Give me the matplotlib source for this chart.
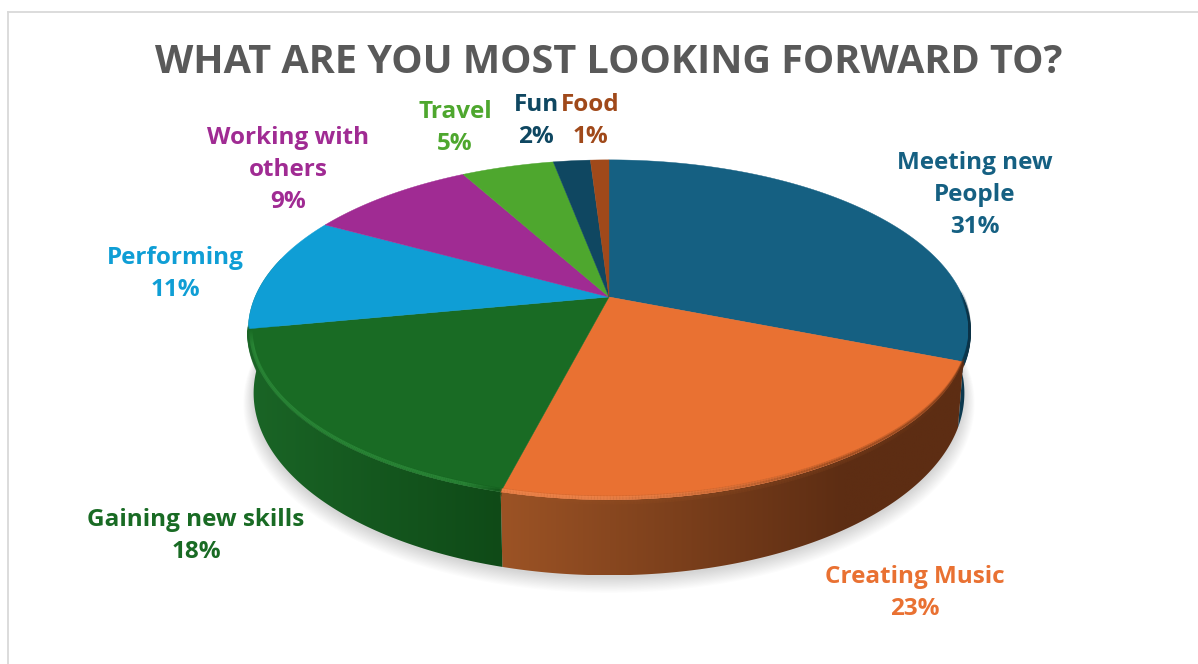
import numpy as np
import matplotlib
matplotlib.use("Agg")
import matplotlib.pyplot as plt
from matplotlib.collections import LineCollection
from matplotlib.colors import to_rgb
from matplotlib.patches import Polygon

# Survey answers
categories = ["Meeting new\nPeople", "Creating Music", "Gaining new skills", "Performing",
              "Working with\nothers", "Travel", "Fun", "Food"]
shares = [31, 23, 18, 11, 9, 5, 2, 1]
slice_colors = ["#156082", "#E97132", "#196B24", "#0F9ED5",
                "#A02B93", "#4EA72E", "#0F4761", "#A0491A"]
title = "WHAT ARE YOU MOST LOOKING FORWARD TO?"

# Label anchors in pixels, one per slice
label_xy = [(975, 195), (915, 593), (196, 536), (175, 274),
            (288, 170), (455, 128), (536, 121), (590, 121)]

# Left and right colours of the pie wall for the slices that show one
wall_colors = {
    0: ("#0E3F56", "#0B3246"),
    1: ("#9C5325", "#5D2D13"),
    2: ("#1A6526", "#0F4A17"),
}
# Degrees trimmed from the start of a wall, or added past its end
wall_trim = {0: (88, 0), 1: (0, 0), 2: (0, 25)}

plt.rcParams["font.family"] = ["Open Sans", "DejaVu Sans"]

# Perspective of the disc
CX, CY = 609, 297
RX, RY = 354, 163.6
PERSP = 0.193
DEPTH = 61


def project(theta, r=1.0, dz=0.0, shrink=1.0):
    # theta runs clockwise from 12 o'clock, in degrees
    t = np.radians(theta)
    x, y = r * np.sin(t), r * np.cos(t)
    w = 1 / (1 + PERSP * y)
    return CX + RX * x * w * shrink, CY + (dz - RY * y) * w


def hex_mix(c1, c2, f):
    return tuple(np.array(to_rgb(c1)) * (1 - f) + np.array(to_rgb(c2)) * f)


fig = plt.figure(figsize=(11.98, 6.64), dpi=100)
ax = fig.add_axes([0, 0, 1, 1])
ax.set_xlim(0, 1198)
ax.set_ylim(664, 0)
ax.axis("off")

# Chart frame
ax.plot([8, 8], [664, 12], color="#D9D9D9", lw=1.3, zorder=1)
ax.plot([8, 1198], [12, 12], color="#D9D9D9", lw=1.3, zorder=1)

# Soft shadow under the pie
ring = np.linspace(0, 360, 361)
for i in range(14):
    f = i / 13
    sx, sy = project(ring, r=1.0 + 0.028 * f, dz=DEPTH + 2 + 6 * f, shrink=0.985)
    ax.add_patch(Polygon(np.c_[sx, sy], fc="black", ec="none", alpha=0.013, zorder=2))

edges = np.cumsum([0] + shares) * 3.6

# Walls first, each one shaded from left to right
for i, (c_l, c_r) in wall_colors.items():
    th = np.linspace(edges[i] + wall_trim[i][0], edges[i + 1] + wall_trim[i][1], 200)
    tx, ty = project(th)
    bx, by = project(th, dz=DEPTH, shrink=0.985)
    pts = np.r_[np.c_[tx, ty], np.c_[bx, by][::-1]]
    poly = Polygon(pts, fc="none", ec="none", zorder=3)
    ax.add_patch(poly)
    x0, x1 = pts[:, 0].min(), pts[:, 0].max()
    y0, y1 = pts[:, 1].min(), pts[:, 1].max()
    ramp = np.clip(np.linspace(0, 1, 256) * (1.0 if i != 1 else 1.35), 0, 1)
    grad = np.array([hex_mix(c_l, c_r, f) for f in ramp])[None, :, :]
    im = ax.imshow(grad, extent=(x0, x1, y1, y0), aspect="auto", zorder=3,
                   interpolation="bilinear")
    im.set_clip_path(poly)
ax.set_xlim(0, 1198)
ax.set_ylim(664, 0)

# Flat top faces
for i, col in enumerate(slice_colors):
    th = np.linspace(edges[i], edges[i + 1], 200)
    tx, ty = project(th)
    pts = np.r_[[[CX, CY]], np.c_[tx, ty]]
    ax.add_patch(Polygon(pts, fc=col, ec=col, lw=0.3, zorder=4))

# Blurred transition from the top face down into the wall
for i, (c_l, c_r) in wall_colors.items():
    th = np.linspace(edges[i] + wall_trim[i][0], edges[i + 1], 200)
    xs = project(th)[0]
    f = np.clip((xs - xs.min()) / max(np.ptp(xs), 1), 0, 1)
    rgb = np.array([hex_mix(c_l, c_r, v) for v in f])
    # the blue wall is only a sliver, so its edge fades in
    taper = np.linspace(0, 1, len(th) - 1) if i == 0 else np.ones(len(th) - 1)
    for dz, a in [(1.5, 0.75), (3.0, 0.45), (-1.0, 0.35), (-2.5, 0.15)]:
        lx, ly = project(th, dz=dz)
        seg = np.c_[lx, ly]
        lines = np.stack([seg[:-1], seg[1:]], axis=1)
        cols = np.c_[rgb[:-1], a * taper]
        ax.add_collection(LineCollection(lines, colors=cols, lw=1.6, zorder=5, capstyle="round"))

# Light catching the front rim of the two front slices
for i, light in [(1, "#F58A50"), (2, "#2F8F3C")]:
    th = np.linspace(edges[i], edges[i + 1], 200)
    lx, ly = project(th, r=0.993)
    seg = np.c_[lx, ly]
    lines = np.stack([seg[:-1], seg[1:]], axis=1)
    mid = np.linspace(0, 1, len(lines))
    fade = np.clip((mid - 0.45) / 0.4, 0, 1) if i == 1 else np.clip(np.sin(mid * np.pi) * 4, 0, 1)
    cols = np.c_[np.tile(to_rgb(light), (len(lines), 1)), 0.75 * fade]
    ax.add_collection(LineCollection(lines, colors=cols, lw=2.6, zorder=6))

# Text
ax.text(609, 58, title, color="#595959", fontsize=28.5, fontweight="bold",
        ha="center", va="center_baseline", zorder=8)
for name, share, col, (lx, ly) in zip(categories, shares, slice_colors, label_xy):
    ax.text(lx, ly, f"{name}\n{share}%", color=col, fontsize=17.5, fontweight="bold",
            ha="center", va="center", linespacing=1.42, zorder=8)

fig.savefig("out.png", dpi=100)
